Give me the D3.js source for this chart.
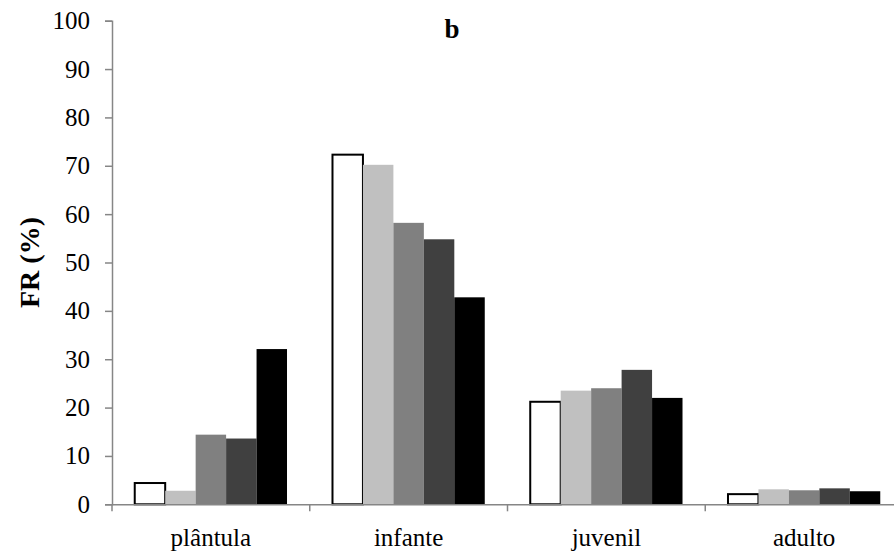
<!DOCTYPE html>
<html>
<head>
<meta charset="utf-8">
<script src="https://cdn.jsdelivr.net/npm/d3@7/dist/d3.min.js"></script>
<style>
  html, body { margin: 0; padding: 0; background: #fff; }
  svg { display: block; }
  text { font-family: "Liberation Serif", "Times New Roman", serif; fill: #000; }
</style>
</head>
<body>
<svg id="chart" width="894" height="551"></svg>
<script>
// Categories (life stages) and the five series of relative frequency (%)
const categories = ["plântula", "infante", "juvenil", "adulto"];
const seriesNames = ["s1", "s2", "s3", "s4", "s5"];
const s1 = [4.4, 72.3, 21.2, 2.1];
const s2 = [2.8, 70.2, 23.5, 3.1];
const s3 = [14.4, 58.2, 24.0, 2.9];
const s4 = [13.6, 54.8, 27.8, 3.3];
const s5 = [32.1, 42.8, 22.0, 2.7];
const yTicks = [0, 10, 20, 30, 40, 50, 60, 70, 80, 90, 100];
const yLabel = "FR (%)";
const title = "b";

const seriesValues = [s1, s2, s3, s4, s5];
const fills = ["#ffffff", "#c0c0c0", "#808080", "#404040", "#000000"];

const svg = d3.select("#chart");
const plotLeft = 112, plotRight = 903, plotTop = 20.7, plotBottom = 504.3;

const x0 = d3.scaleBand()
  .domain(categories)
  .range([plotLeft, plotRight])
  .paddingInner(0.23)
  .paddingOuter(0.115);

const x1 = d3.scaleBand()
  .domain(seriesNames)
  .range([0, x0.bandwidth()]);

const y = d3.scaleLinear().domain([0, 100]).range([plotBottom, plotTop]);

const axisColor = "#868686";

// Bars
const groups = svg.append("g").selectAll("g")
  .data(categories)
  .join("g")
  .attr("transform", d => `translate(${x0(d)},0)`);

groups.selectAll("rect")
  .data((c, ci) => seriesNames.map((s, si) => ({ s, si, v: seriesValues[si][ci] })))
  .join("rect")
  .attr("x", d => x1(d.s))
  .attr("width", x1.bandwidth())
  .attr("y", d => y(d.v))
  .attr("height", d => y(0) - y(d.v))
  .attr("fill", d => fills[d.si])
  .attr("stroke", d => d.si === 0 ? "#000" : "none")
  .attr("stroke-width", 2);

// Y axis
const yAxis = d3.axisLeft(y)
  .tickValues(yTicks)
  .tickSize(7)
  .tickPadding(15)
  .tickFormat(d3.format("d"));

const gy = svg.append("g")
  .attr("transform", `translate(${plotLeft},0)`)
  .call(yAxis);
gy.select(".domain").attr("stroke", axisColor).attr("stroke-width", 1.5);
gy.selectAll(".tick line").attr("stroke", axisColor).attr("stroke-width", 1.5);
gy.selectAll(".tick text")
  .attr("font-size", 25)
  .style("font-family", "'Liberation Serif', serif")
  .attr("fill", "#000");

// X axis with boundary ticks between categories
const xAxis = d3.axisBottom(x0).tickSize(0).tickPadding(24);
const gx = svg.append("g")
  .attr("transform", `translate(0,${plotBottom})`)
  .call(xAxis);
gx.select(".domain").attr("stroke", axisColor).attr("stroke-width", 1.5);
gx.selectAll(".tick text")
  .attr("font-size", 25)
  .style("font-family", "'Liberation Serif', serif")
  .attr("fill", "#000");

const bounds = categories.map(c => x0(c) - x0.step() * x0.paddingInner() / 2);
gx.selectAll(".bound")
  .data(bounds)
  .join("line")
  .attr("class", "bound")
  .attr("x1", d => d).attr("x2", d => d)
  .attr("y1", 0).attr("y2", 7)
  .attr("stroke", axisColor)
  .attr("stroke-width", 1.5);

// Y axis title
svg.append("text")
  .attr("transform", `translate(39,${(plotTop + plotBottom) / 2}) rotate(-90)`)
  .attr("text-anchor", "middle")
  .attr("font-size", 28)
  .attr("font-weight", "bold")
  .style("font-family", "'Liberation Serif', serif")
  .text(yLabel);

// Panel title
svg.append("text")
  .attr("x", 452)
  .attr("y", 38)
  .attr("text-anchor", "middle")
  .attr("font-size", 27)
  .attr("font-weight", "bold")
  .style("font-family", "'Liberation Serif', serif")
  .text(title);
</script>
</body>
</html>
